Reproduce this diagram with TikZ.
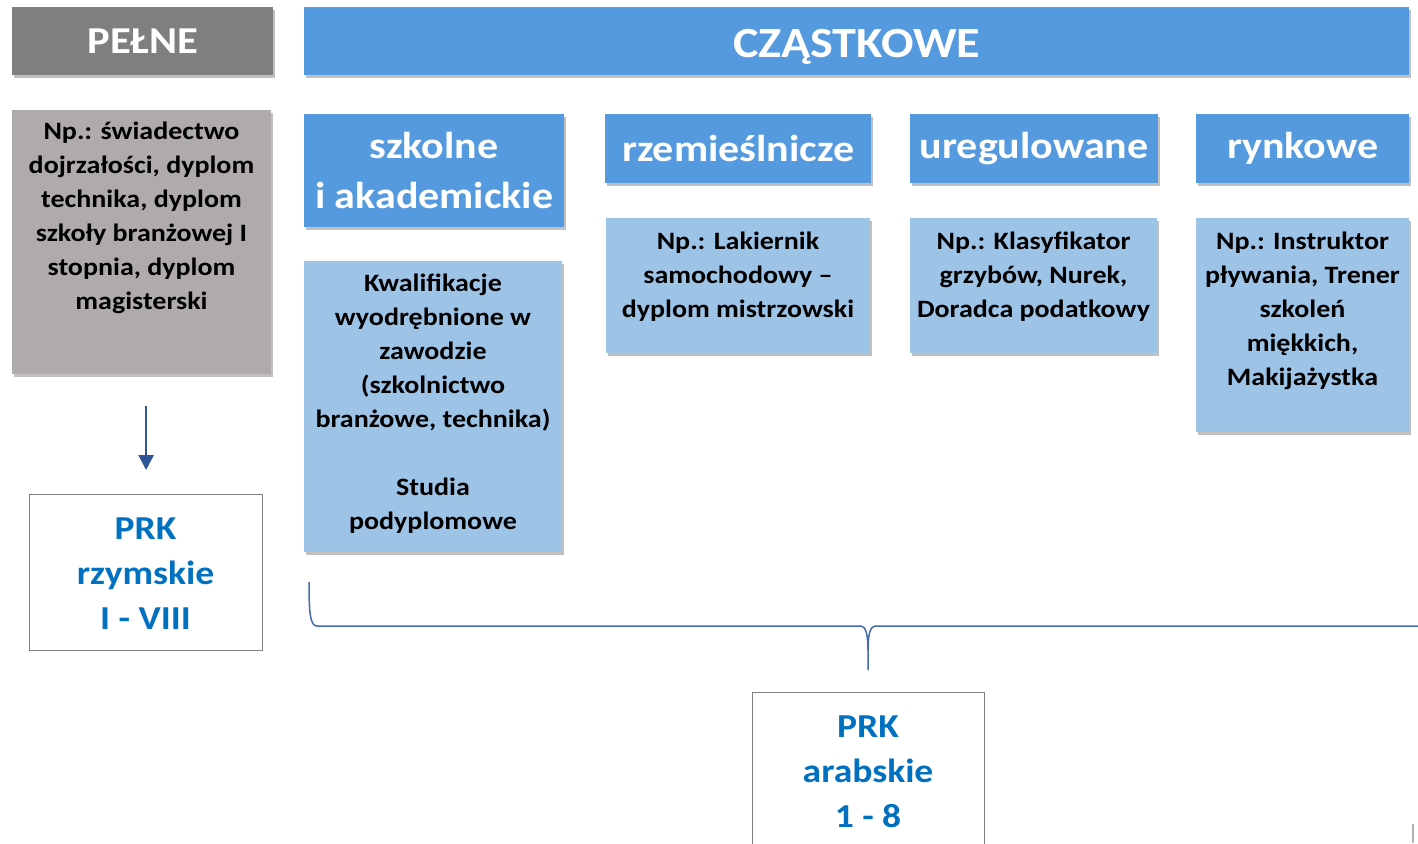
\documentclass[tikz,border=0pt]{standalone}
\usepackage{fontspec}
\setmainfont{Carlito}[FakeStretch=1.12]
\usetikzlibrary{shadows,arrows.meta}
\definecolor{hdrgray}{RGB}{127,127,127}
\definecolor{hdrblue}{RGB}{85,154,222}
\definecolor{lightblue}{RGB}{157,195,230}
\definecolor{boxgray}{RGB}{175,171,171}
\definecolor{prkblue}{RGB}{0,112,192}
\definecolor{bracecol}{RGB}{68,108,172}
\definecolor{arrowcol}{RGB}{47,85,151}
\definecolor{bordergray}{RGB}{128,128,128}
\begin{document}
\begin{tikzpicture}[x=1pt,y=-1pt,
  shad/.style={drop shadow={shadow xshift=2pt,shadow yshift=-3pt,opacity=.35,fill=black!70}},
  boxat/.style={rectangle,inner sep=0pt,anchor=north west},
  hdr/.style={boxat,shad,text=white,font=\bfseries\fontsize{37.5}{50}\selectfont,align=center},
  exbox/.style={boxat,shad,fill=lightblue},
  extext/.style={font=\bfseries\fontsize{25}{34}\selectfont,align=center,inner sep=0pt},
  prkbox/.style={boxat,draw=bordergray,line width=1.2pt,fill=white},
  prktext/.style={text=prkblue,font=\bfseries\fontsize{33.5}{45}\selectfont,align=center,inner sep=0pt},
  brace/.style={draw=bracecol,line width=1.5pt}]
\useasboundingbox (0,0) rectangle (1418,843);
\clip (0,0) rectangle (1418,843);
\fill[white] (0,0) rectangle (1418,843);

% top headers
\node[hdr,fill=hdrgray,minimum width=261pt,minimum height=68pt,font=\bfseries\fontsize{38}{40}\selectfont] (pelne) at (12,7) {PEŁNE};
\node[hdr,fill=hdrblue,minimum width=1105pt,minimum height=68pt,font=\bfseries\fontsize{43}{48}\selectfont] (czast) at (304,7) {\raisebox{-6pt}[\height][\depth]{CZĄSTKOWE}};

% category headers
\node[hdr,fill=hdrblue,minimum width=260pt,minimum height=113pt] (h1) at (304,114) {szkolne\\i akademickie};
\node[hdr,fill=hdrblue,minimum width=266pt,minimum height=69pt] (h2) at (605,114) {rzemieślnicze};
\node[hdr,fill=hdrblue,minimum width=248pt,minimum height=69pt] (h3) at (910,114) {uregulowane};
\node[hdr,fill=hdrblue,minimum width=213pt,minimum height=69pt] (h4) at (1196,114) {rynkowe};

% example boxes
\node[exbox,fill=boxgray,minimum width=259pt,minimum height=264pt] (ex0) at (12,110) {};
\node[extext] (t0) at (141.5,218) {Np.: świadectwo\\dojrzałości, dyplom\\technika, dyplom\\szkoły branżowej I\\stopnia, dyplom\\magisterski};

\node[exbox,minimum width=258pt,minimum height=291pt] (ex1) at (304,261) {};
\node[extext] (t1) at (433,404) {Kwalifikacje\\wyodrębnione w\\zawodzie\\(szkolnictwo\\branżowe, technika)\\[34pt]Studia\\podyplomowe};

\node[exbox,minimum width=264pt,minimum height=135pt] (ex2) at (606,218) {};
\node[extext] (t2) at (738,277) {Np.: Lakiernik\\samochodowy –\\dyplom mistrzowski};

\node[exbox,minimum width=247pt,minimum height=135pt] (ex3) at (910,218) {};
\node[extext] (t3) at (1033.5,277) {Np.: Klasyfikator\\grzybów, Nurek,\\Doradca podatkowy};

\node[exbox,minimum width=213pt,minimum height=214pt] (ex4) at (1196,218) {};
\node[extext] (t4) at (1302.5,311) {Np.: Instruktor\\pływania, Trener\\szkoleń\\miękkich,\\Makijażystka};

% PRK boxes
\node[prkbox,minimum width=233pt,minimum height=156pt] (prk1) at (29,494) {};
\node[prktext] (p1) at (145.5,574) {PRK\\rzymskie\\I - VIII};

\node[prkbox,minimum width=232pt,minimum height=190pt] (prk2) at (752,692) {};
\node[prktext] (p2) at (868,772) {PRK\\arabskie\\1 - 8};

% arrow
\draw[arrowcol,line width=2.6pt,-{Triangle[length=15pt,width=15pt]},shorten <=32pt,shorten >=24pt]
  (ex0.south -| prk1.north) -- (prk1.north);

% brace
\coordinate (bl) at (309,582);
\coordinate (br) at (1430,626);
\coordinate (bt) at (868,670);
\draw[brace] (bl) .. controls (309,612) and (310,626) .. (317,626) -- (861,626)
  .. controls (866,626) and (868,636) .. (868,650) -- (bt);
\draw[brace] (br) -- (875,626) .. controls (870,626) and (868,636) .. (868,650);

% small mark bottom right
\draw[black!30,line width=2pt] (1413,824) -- (1413,843);
\end{tikzpicture}
\end{document}
